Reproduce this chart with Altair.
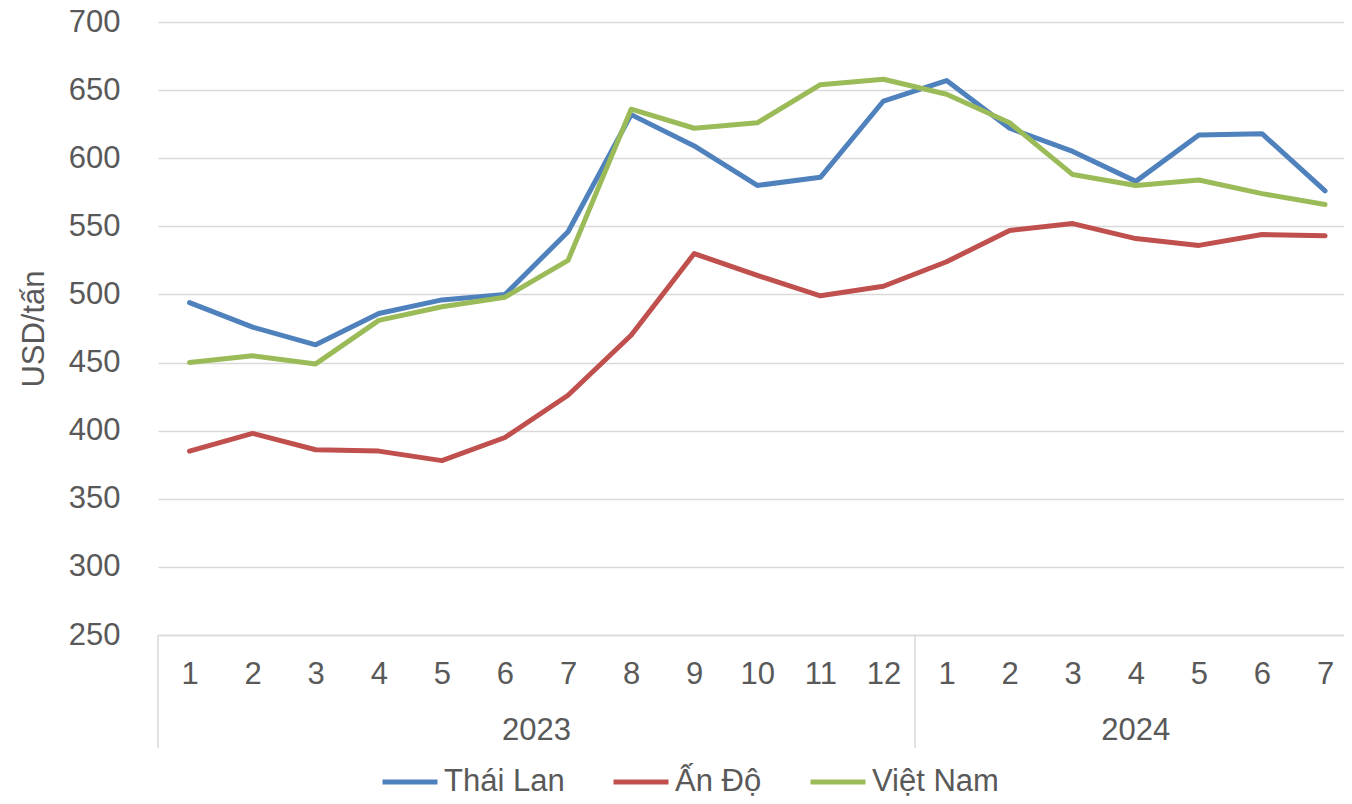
import altair as alt
import pandas as pd

# ---- data ----
months = [1, 2, 3, 4, 5, 6, 7, 8, 9, 10, 11, 12, 1, 2, 3, 4, 5, 6, 7]
years = [2023] * 12 + [2024] * 7
series = ["Thái Lan", "Ấn Độ", "Việt Nam"]
colors = ["#4F81BD", "#C0504D", "#9BBB59"]

thai = [494, 476, 463, 486, 496, 500, 546, 632, 609, 580, 586, 642,
        657, 622, 605, 583, 617, 618, 576]
india = [385, 398, 386, 385, 378, 395, 426, 470, 530, 514, 499, 506,
         524, 547, 552, 541, 536, 544, 543]
vietnam = [450, 455, 449, 481, 491, 498, 525, 636, 622, 626, 654, 658,
           647, 626, 588, 580, 584, 574, 566]

y_ticks = [250, 300, 350, 400, 450, 500, 550, 600, 650, 700]

FONT = "Liberation Sans"
TXT = "#595959"
GRID = "#d9d9d9"
FS = 31

rows = []
for name, vals in zip(series, [thai, india, vietnam]):
    for i, v in enumerate(vals):
        rows.append({"idx": i, "value": v, "series": name})
df = pd.DataFrame(rows)

year_rows, sep_rows = [], []
for yv in sorted(set(years)):
    idxs = [i for i, y in enumerate(years) if y == yv]
    year_rows.append({"year": str(yv), "idx": (idxs[0] + idxs[-1]) / 2})
    sep_rows.append({"idx": idxs[0] - 0.5})
ydf = pd.DataFrame(year_rows)
sdf = pd.DataFrame(sep_rows)

n = len(months)
xscale = alt.Scale(domain=[-0.5, n - 0.7], nice=False, zero=False)
label_expr = "[" + ",".join("'%d'" % m for m in months) + "][datum.value]"

lines = alt.Chart(df).mark_line(strokeWidth=5, strokeCap="round", strokeJoin="round").encode(
    x=alt.X("idx:Q", scale=xscale,
            axis=alt.Axis(values=list(range(n)), labelExpr=label_expr, grid=False,
                          ticks=False, domain=True, domainColor=GRID, domainWidth=1.5,
                          labelFontSize=FS, labelColor=TXT, labelFont=FONT,
                          labelPadding=39, labelBaseline="middle", labelFlush=False,
                          labelOverlap=False, title="")),
    y=alt.Y("value:Q", scale=alt.Scale(domain=[250, 700], nice=False, zero=False),
            axis=alt.Axis(values=y_ticks, grid=True, gridColor=GRID, gridWidth=1.5,
                          domain=False, ticks=False, labelFontSize=FS, labelColor=TXT,
                          labelFont=FONT, labelPadding=38,
                          title="USD/tấn", titleFontSize=FS, titleColor=TXT,
                          titleFont=FONT, titleFontWeight="normal", titleAngle=270,
                          titleX=-124, titleY=306.5, titleAlign="center",
                          titleBaseline="middle")),
    color=alt.Color("series:N", scale=alt.Scale(domain=series, range=colors),
                    legend=alt.Legend(title=None, orient="none", legendX=222, legendY=730,
                                      direction="horizontal", symbolType="stroke",
                                      symbolSize=3025, symbolStrokeWidth=5,
                                      labelFontSize=FS, labelColor=TXT, labelFont=FONT,
                                      labelOffset=4, columnPadding=38)),
    order=alt.Order("idx:Q"),
)

year_text = alt.Chart(ydf).mark_text(fontSize=FS, color=TXT, font=FONT, baseline="middle").encode(
    x=alt.X("idx:Q", scale=xscale),
    y=alt.value(709),
    text="year:N",
)

seps = alt.Chart(sdf).mark_rule(color=GRID, strokeWidth=1.5).encode(
    x=alt.X("idx:Q", scale=xscale),
    y=alt.value(613),
    y2=alt.value(726),
)

chart = alt.layer(lines, seps, year_text).properties(
    width=1186, height=613,
    autosize=alt.AutoSizeParams(type="none"),
    padding={"left": 150, "top": 14, "right": 0, "bottom": 161},
    background="white",
).configure_view(stroke=None)

chart.save("out.html", embed_options={"renderer": "svg", "actions": False})
